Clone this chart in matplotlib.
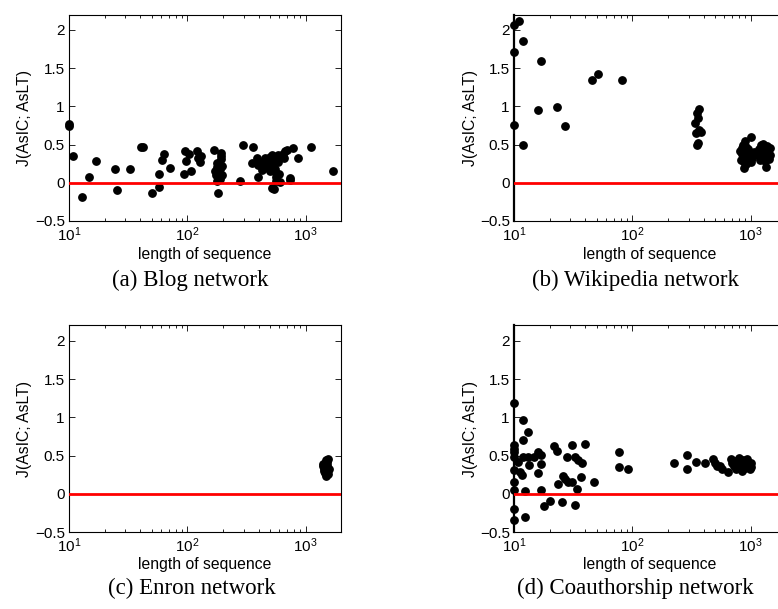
import matplotlib
matplotlib.use("Agg")
import matplotlib.pyplot as plt
from matplotlib.ticker import FixedLocator, FixedFormatter, LogLocator, NullFormatter

plt.rcParams['font.family'] = ['Liberation Sans', 'DejaVu Sans']
plt.rcParams['mathtext.fontset'] = 'custom'
plt.rcParams['mathtext.rm'] = 'Liberation Sans'
plt.rcParams['mathtext.it'] = 'Liberation Sans:italic'
plt.rcParams['mathtext.bf'] = 'Liberation Sans:bold'

# ---------------- data ----------------
blog_x = [10, 10, 10.9, 12.8, 14.9, 16.8, 24.7, 25.5, 32.6, 41, 42.5, 50, 57.3, 58,
          61.5, 63, 71.4, 93, 95.6, 96.8, 103, 108, 120, 124, 127, 130, 168, 172,
          175, 177, 178, 180, 182, 183, 185, 188, 190, 192, 193, 194, 195, 196, 279,
          297, 350, 361, 391, 394, 398, 426, 440, 455, 460, 470, 480, 490, 500, 505,
          510, 516, 520, 530, 540, 545, 550, 560, 562, 565, 570, 580, 590, 600, 610,
          640, 661, 670, 700, 738, 745, 787, 867, 1104, 1714]
blog_y = [0.77, 0.74, 0.35, -0.18, 0.07, 0.28, 0.18, -0.09, 0.18, 0.47, 0.47, -0.14,
          -0.06, 0.12, 0.30, 0.38, 0.20, 0.12, 0.42, 0.28, 0.38, 0.15, 0.41, 0.33,
          0.27, 0.35, 0.43, 0.16, 0.10, 0.26, 0.21, 0.03, 0.08, -0.13, 0.12, 0.05,
          0.18, 0.39, 0.31, 0.35, 0.22, 0.10, 0.03, 0.50, 0.26, 0.47, 0.32, 0.07, 0.23,
          0.17, 0.27, 0.33, 0.22, 0.30, 0.20, 0.25, 0.34, 0.15, 0.29, -0.07, 0.36,
          0.24, -0.08, 0.31, 0.18, 0.13, 0.07, 0.02, 0.34, 0.27, 0.36, 0.12, 0.01,
          0.38, 0.32, 0.41, 0.43, 0.06, 0.04, 0.45, 0.33, 0.47, 0.16]

wiki_x = [10, 11, 12, 10, 16.9, 45.9, 51.6, 82.4, 15.8, 22.9, 27, 10, 12,
          368, 355, 360, 339, 369, 383, 344, 360, 349,
          820, 830, 840, 850, 860, 870, 880, 885, 890, 900, 905, 910, 920, 930, 940,
          950, 960, 970, 1000, 1010, 1030, 1060,
          1150, 1180, 1200, 1220, 1240, 1250, 1270, 1290, 1300, 1320, 1330, 1350,
          1370, 1390, 1410, 1430, 1450, 1470]
wiki_y = [2.06, 2.12, 1.85, 1.71, 1.60, 1.34, 1.42, 1.34, 0.95, 0.99, 0.74, 0.75, 0.50,
          0.97, 0.91, 0.85, 0.78, 0.69, 0.67, 0.65, 0.52, 0.49,
          0.42, 0.30, 0.45, 0.38, 0.50, 0.35, 0.27, 0.20, 0.42, 0.55, 0.33, 0.47, 0.25,
          0.40, 0.36, 0.30, 0.44, 0.38, 0.60, 0.27, 0.33, 0.40,
          0.36, 0.44, 0.30, 0.49, 0.40, 0.34, 0.51, 0.46, 0.38, 0.28, 0.43, 0.21,
          0.48, 0.35, 0.42, 0.31, 0.45, 0.36]

enron_x = [1400, 1420, 1430, 1440, 1450, 1460, 1470, 1480, 1490, 1500, 1510, 1520,
           1530, 1540, 1550, 1560, 1570, 1480, 1410, 1530]
enron_y = [0.36, 0.33, 0.38, 0.30, 0.35, 0.27, 0.40, 0.32, 0.24, 0.37, 0.29, 0.34,
           0.42, 0.31, 0.46, 0.26, 0.33, 0.44, 0.39, 0.38]

coauth_x = [10, 10, 10, 10, 10, 10, 10, 10, 10, 10,
            10.9, 11.2, 11.6, 12, 12, 13.1, 12, 13.1, 12.3, 12.3, 13.3, 14.9, 16, 16.9,
            15.8, 16.9, 16.9, 18, 20.1, 21.9, 22.9, 23.6, 26.1, 27, 25.6, 27.9, 28.4,
            30.8, 30.8, 32.8, 33.9, 32.8, 35, 36.8, 37.8, 39.8, 47.8, 77.3, 77.3, 92.5,
            225, 288, 292, 343, 412, 480, 500, 520, 550, 570, 640,
            680, 700, 720, 740, 760, 780, 800, 810, 830, 850, 860, 880, 900, 920, 940,
            960, 980, 1000, 1010]
coauth_y = [1.19, 0.64, 0.59, 0.55, 0.48, 0.31, 0.16, 0.05, -0.19, -0.34,
            0.42, 0.29, 0.25, 0.96, 0.71, 0.81, 0.48, 0.48, 0.04, -0.30, 0.38, 0.48,
            0.55, 0.51, 0.27, 0.39, 0.05, -0.16, -0.09, 0.62, 0.56, 0.13, 0.23, 0.19,
            -0.10, 0.48, 0.16, 0.16, 0.64, 0.48, 0.07, -0.14, 0.45, 0.22, 0.40, 0.65,
            0.16, 0.55, 0.35, 0.33,
            0.41, 0.51, 0.32, 0.42, 0.41, 0.46, 0.40, 0.36, 0.37, 0.33, 0.29,
            0.46, 0.40, 0.36, 0.43, 0.33, 0.39, 0.47, 0.35, 0.41, 0.30, 0.45, 0.38,
            0.34, 0.42, 0.46, 0.37, 0.33, 0.40, 0.35]

captions = ['(a) Blog network', '(b) Wikipedia network',
            '(c) Enron network', '(d) Coauthorship network']
y_ticks = [-0.5, 0, 0.5, 1, 1.5, 2]
y_tick_labels = ['\u22120.5', '0', '0.5', '1', '1.5', '2']
x_ticks = [10, 100, 1000]
x_tick_labels = [r'$\mathregular{10^{1}}$', r'$\mathregular{10^{2}}$',
                 r'$\mathregular{10^{3}}$']
xlabel = 'length of sequence'
ylabel = 'J(AsIC; AsLT)'

# ---------------- layout ----------------
W, H = 778, 609
fig = plt.figure(figsize=(W / 100, H / 100), dpi=100)

# panel rectangles in pixels: left, top, right, bottom
panels = [
    (69, 14.7, 341.2, 221.0),
    (514, 14.7, 786.2, 221.0),
    (69, 325.4, 341.2, 532.3),
    (514, 325.4, 786.2, 532.3),
]
series = [(blog_x, blog_y), (wiki_x, wiki_y), (enron_x, enron_y), (coauth_x, coauth_y)]
ylabel_x = [25, 470, 25, 470]
caption_pos = [(190, 280), (635, 280), (192, 588), (635, 588)]
xlabel_y = [255, 255, 565, 565]

for i, ((l, t, r, b), (xs, ys)) in enumerate(zip(panels, series)):
    ax = fig.add_axes([l / W, 1 - b / H, (r - l) / W, (b - t) / H])
    ax.set_xscale('log')
    ax.set_xlim(10, 2000)
    ax.set_ylim(-0.5, 2.2)
    ax.plot(xs, ys, 'o', color='black', ms=5.3, mec='black', clip_on=False, zorder=3)
    ax.axhline(0, color='red', lw=2.0, zorder=4)

    ax.xaxis.set_major_locator(FixedLocator(x_ticks))
    ax.xaxis.set_major_formatter(FixedFormatter(x_tick_labels))
    ax.xaxis.set_minor_locator(LogLocator(base=10, subs=range(2, 10)))
    ax.xaxis.set_minor_formatter(NullFormatter())
    ax.yaxis.set_major_locator(FixedLocator(y_ticks))
    ax.yaxis.set_major_formatter(FixedFormatter(y_tick_labels))

    ax.tick_params(which='both', direction='in', top=True, right=True,
                   labelsize=11, colors='black', width=0.6)
    ax.tick_params(which='major', length=4.5, pad=3)
    ax.tick_params(which='minor', length=2.2)
    for s in ax.spines.values():
        s.set_linewidth(0.8)
    if i in (1, 3):
        ax.spines['left'].set_linewidth(1.6)

    cy = (t + b) / 2
    fig.text(ylabel_x[i] / W, 1 - cy / H, ylabel, rotation=90, ha='center',
             va='center', fontsize=11.3)
    fig.text((l + 135.5) / W, 1 - xlabel_y[i] / H, xlabel,
             ha='center', va='center', fontsize=11.3)
    cx, cyc = caption_pos[i]
    fig.text(cx / W, 1 - cyc / H, captions[i], ha='center', va='center',
             fontsize=16.5, family=['Liberation Serif', 'DejaVu Serif'])

fig.savefig('out.png', dpi=100)
